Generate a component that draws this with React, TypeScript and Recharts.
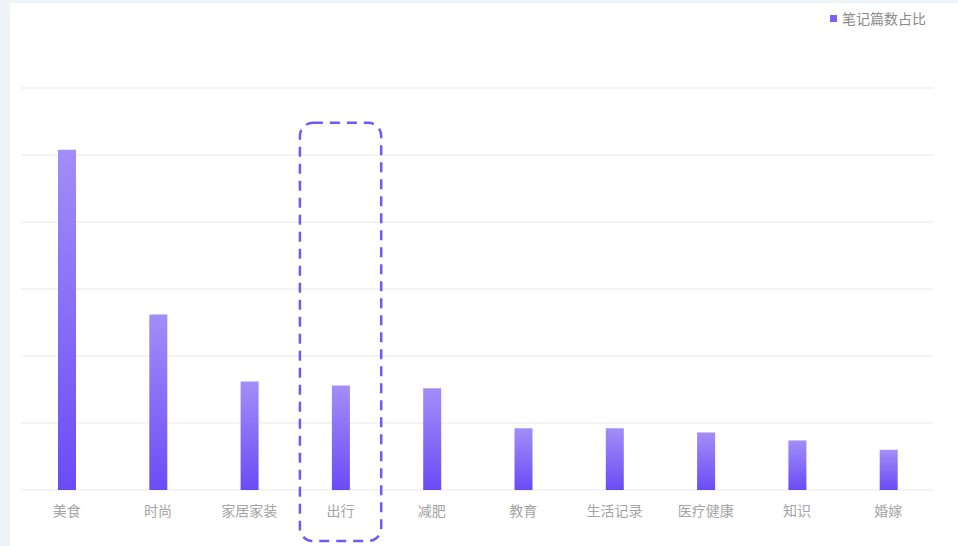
import * as React from 'react';
import { BarChart, Bar, XAxis, YAxis, CartesianGrid, Legend, ReferenceArea } from 'recharts';

const categories = ['美食', '时尚', '家居家装', '出行', '减肥', '教育', '生活记录', '医疗健康', '知识', '婚嫁'];
const shares = [25.4, 13.1, 8.1, 7.8, 7.6, 4.6, 4.6, 4.3, 3.7, 3.0];
const yTicks = [0, 5, 10, 15, 20, 25, 30];
const seriesName = '笔记篇数占比';
const highlighted = '出行';
const highlightTop = 27.4;

const data = categories.map((name, i) => ({ name, value: shares[i] }));

const FONT = '"Noto Sans CJK SC", "Noto Sans", sans-serif';

const LegendContent = () => (
  <div style={{ display: 'flex', alignItems: 'center', justifyContent: 'flex-end', fontFamily: FONT, fontSize: 14, color: '#8a8a8a' }}>
    <span style={{ width: 7, height: 7, background: '#7b62f5', marginRight: 5, display: 'inline-block' }} />
    <span>{seriesName}</span>
  </div>
);

// dashed rounded box around the highlighted category, running down past the tick label
const HighlightBox = (props: any) => {
  const { x, y, width, height } = props;
  const inset = 5;
  return (
    <rect
      x={x + inset}
      y={y}
      width={width - inset * 2}
      height={height + 51}
      rx={13}
      ry={13}
      fill="none"
      stroke="#6e5cf0"
      strokeWidth={2.5}
      strokeDasharray="10 7"
    />
  );
};

const App: React.FC = () => {
  return (
    <div style={{ position: 'absolute', left: 0, top: 0, width: 958, height: 546, background: '#eef3f7', overflow: 'hidden' }}>
      <div style={{ position: 'absolute', left: 10, top: 3, width: 948, height: 543, background: '#ffffff' }}>
        <BarChart width={948} height={543} data={data} margin={{ top: 65, right: 24, bottom: 26, left: 11 }}>
          <defs>
            <linearGradient id="barFill" x1="0" y1="0" x2="0" y2="1">
              <stop offset="0%" stopColor="#a28ef8" />
              <stop offset="100%" stopColor="#6a4cf6" />
            </linearGradient>
          </defs>
          <CartesianGrid vertical={false} stroke="#f1f1f3" strokeWidth={1.5} />
          <XAxis
            dataKey="name"
            axisLine={false}
            tickLine={false}
            height={30}
            tick={{ fill: '#a4a4a4', fontSize: 14, fontFamily: FONT }}
            tickMargin={10}
            interval={0}
          />
          <YAxis hide domain={[0, 30]} ticks={yTicks} />
          <Legend
            verticalAlign="top"
            align="right"
            height={20}
            content={<LegendContent />}
            wrapperStyle={{ top: 5, right: 32 }}
          />
          <Bar dataKey="value" name={seriesName} fill="url(#barFill)" barSize={18} isAnimationActive={false} />
          <ReferenceArea
            x1={highlighted}
            x2={highlighted}
            y1={0}
            y2={highlightTop}
            ifOverflow="visible"
            shape={<HighlightBox />}
          />
        </BarChart>
      </div>
    </div>
  );
};

export default App;
